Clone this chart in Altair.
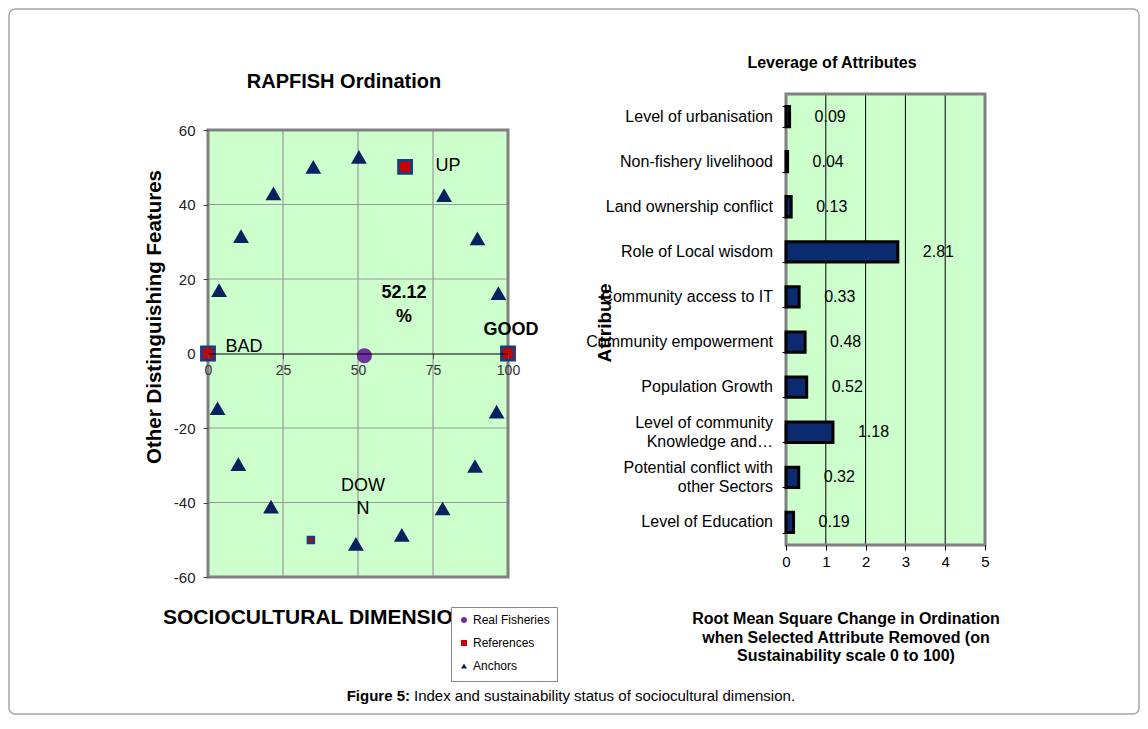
import altair as alt
import pandas as pd

FONT = "Liberation Sans"

# ---------------- Left panel: RAPFISH ordination ----------------
legend_types = ["Real Fisheries", "References", "Anchors"]
anchor_x = [3.7, 11.0, 21.8, 35.1, 50.3, 78.7, 89.8, 96.8,
            3.2, 10.1, 21.0, 49.3, 64.6, 78.2, 89.0, 96.2]
anchor_y = [17.0, 31.5, 43.0, 50.1, 52.8, 42.5, 30.9, 16.2,
            -14.7, -29.7, -41.1, -51.1, -48.7, -41.6, -30.2, -15.6]
ref_names = ["BAD", "GOOD", "UP", "DOWN"]
ref_x = [0, 100, 65.7, 34.3]
ref_y = [0, 0, 50.1, -50.1]
real_x = [52.12]
real_y = [-0.6]
left_x_domain = [0, 100]
left_y_domain = [-60, 60]
left_x_ticks = [0, 25, 50, 75, 100]
left_y_ticks = [-60, -40, -20, 0, 20, 40, 60]
left_x_grid = [25, 50, 75]
left_y_grid = [-40, -20, 20, 40]
ann_text = ["UP", "BAD", "DOW\nN"]
ann_x = [80, 12, 51.7]
ann_y = [50.3, 1.7, -35.6]
ann_bold_text = ["GOOD", "52.12\n%"]
ann_bold_x = [101, 65.3]
ann_bold_y = [6.3, 16.2]

# ---------------- Right panel: leverage of attributes ----------------
attributes = [
    "Level of urbanisation",
    "Non-fishery livelihood",
    "Land ownership conflict",
    "Role of Local wisdom",
    "Community access to IT",
    "Community empowerment",
    "Population Growth",
    "Level of community\nKnowledge and\u2026",
    "Potential conflict with\nother Sectors",
    "Level of Education",
]
leverage = [0.09, 0.04, 0.13, 2.81, 0.33, 0.48, 0.52, 1.18, 0.32, 0.19]
right_x_domain = [0, 5]
right_x_ticks = [0, 1, 2, 3, 4, 5]
right_x_grid = [1, 2, 3, 4]

# ---------------- Texts ----------------
left_title = ["RAPFISH Ordination"]
left_ytitle = ["Other Distinguishing Features"]
left_xtitle = ["SOCIOCULTURAL DIMENSION"]
right_title = ["Leverage of Attributes"]
right_ytitle = ["Attribute"]
right_xtitle = ["Root Mean Square Change in Ordination\nwhen Selected Attribute Removed (on\nSustainability scale 0 to 100)"]
caption_bold = ["Figure 5:"]
caption_rest = ["Index and sustainability status of sociocultural dimension."]

GREEN = "#CCFFCC"
NAVY = "#0A2160"
BORDER = "#808080"
W, H = 1130, 705

# ---------------- Left scales / axes ----------------
xsL = alt.Scale(domain=left_x_domain, range=[199, 499], nice=False, zero=False)
ysL = alt.Scale(domain=left_y_domain, range=[568, 121], nice=False, zero=False)
axXL = alt.Axis(orient="bottom", offset=-(H - 344.5), values=left_x_ticks, title=None, grid=False,
                domain=True, domainColor="black", domainWidth=1.2, ticks=True, tickSize=5,
                tickColor="#555555", labelFont=FONT, labelFontSize=14, labelColor="#333333",
                labelPadding=5, labelFlush=False, labelOverlap=False, zindex=2)
axYL = alt.Axis(orient="left", offset=-199, values=left_y_ticks, title=None, grid=False,
                domain=False, ticks=True, tickSize=5, tickColor="#444444", labelFont=FONT,
                labelFontSize=15, labelColor="#222222", labelPadding=8, labelFlush=False,
                labelOverlap=False, labelExpr="toString(datum.value)", zindex=2)

def XL(f):
    return alt.X(f, scale=xsL, axis=axXL)

def YL(f):
    return alt.Y(f, scale=ysL, axis=axYL)

leg = alt.Legend(
    orient="none", legendX=442, legendY=598, title=None, direction="vertical",
    fillColor="white", strokeColor="#888888", padding=7, labelFont=FONT, labelFontSize=12,
    labelColor="black", symbolSize=36, rowPadding=7, labelOffset=3, zindex=3,
    symbolStrokeColor="#1F3A78", symbolStrokeWidth=2.5,
)
shape_scale = alt.Scale(domain=legend_types, range=["circle", "square", "triangle-up"])
fill_scale = alt.Scale(domain=legend_types, range=["#7030A0", "#CC0000", NAVY])

df_lbg = pd.DataFrame({"x0": [left_x_domain[0]], "x1": [left_x_domain[1]],
                       "y0": [left_y_domain[0]], "y1": [left_y_domain[1]]})
df_vgrid = pd.DataFrame({"x": left_x_grid, "y0": left_y_domain[0], "y1": left_y_domain[1]})
df_hgrid = pd.DataFrame({"y": left_y_grid, "x0": left_x_domain[0], "x1": left_x_domain[1]})
df_anchor = pd.DataFrame({"x": anchor_x, "y": anchor_y, "type": "Anchors"})
df_ref = pd.DataFrame({"x": ref_x, "y": ref_y, "type": "References", "name": ref_names})
df_real = pd.DataFrame({"x": real_x, "y": real_y, "type": "Real Fisheries"})
df_ann = pd.DataFrame({"x": ann_x, "y": ann_y, "t": ann_text})
df_annb = pd.DataFrame({"x": ann_bold_x, "y": ann_bold_y, "t": ann_bold_text})

lbg = alt.Chart(df_lbg).mark_rect(fill=GREEN).encode(x=XL("x0:Q"), x2="x1", y=YL("y0:Q"), y2="y1")
lvgrid = alt.Chart(df_vgrid).mark_rule(color="#999999", strokeWidth=1.2).encode(
    x=XL("x:Q"), y=YL("y0:Q"), y2="y1")
lhgrid = alt.Chart(df_hgrid).mark_rule(color="#999999", strokeWidth=1.2).encode(
    y=YL("y:Q"), x=XL("x0:Q"), x2="x1")
lborder = alt.Chart(df_lbg).mark_rect(fillOpacity=0, stroke=BORDER, strokeWidth=3).encode(
    x=XL("x0:Q"), x2="x1", y=YL("y0:Q"), y2="y1")

def pts(df):
    return alt.Chart(df).encode(
        x=XL("x:Q"), y=YL("y:Q"),
        shape=alt.Shape("type:N", scale=shape_scale, legend=leg),
        fill=alt.Fill("type:N", scale=fill_scale, legend=leg),
    )

anchors = pts(df_anchor).mark_point(filled=True, size=250, opacity=1, strokeWidth=0)
refs_big = pts(df_ref).transform_filter("datum.name != 'DOWN'").mark_point(
    filled=True, size=165, opacity=1, stroke="#1F3A78", strokeWidth=3)
refs_small = pts(df_ref).transform_filter("datum.name == 'DOWN'").mark_point(
    filled=True, size=36, opacity=1, stroke="#1F3A78", strokeWidth=2.5)
real = pts(df_real).mark_point(filled=True, size=230, opacity=1, strokeWidth=0)

ann = alt.Chart(df_ann).mark_text(font=FONT, fontSize=18, lineBreak="\n", lineHeight=23,
                                  align="center", baseline="middle", color="black").encode(
    x=XL("x:Q"), y=YL("y:Q"), text="t:N")
annb = alt.Chart(df_annb).mark_text(font=FONT, fontSize=18, fontWeight="bold", lineBreak="\n",
                                    lineHeight=24, align="center", baseline="middle",
                                    color="black").encode(x=XL("x:Q"), y=YL("y:Q"), text="t:N")

left = alt.layer(lbg, lvgrid, lhgrid, lborder, anchors, refs_big, refs_small, real, ann, annb)

# ---------------- Right scales / axes ----------------
xsR = alt.Scale(domain=right_x_domain, range=[777, 976], nice=False, zero=False)
ysR = alt.Scale(domain=attributes, range=[85, 536], paddingInner=0.55, paddingOuter=0.275)
ysRbg = alt.Scale(domain=[0, 1], range=[536, 85], nice=False, zero=False)
axXR = alt.Axis(orient="bottom", offset=-(H - 536), values=right_x_ticks, title=None, grid=False,
                domain=False, ticks=True, tickSize=5, tickColor="black", labelFont=FONT,
                labelFontSize=15, labelColor="black", labelPadding=4, labelFlush=False,
                labelOverlap=False, zindex=2)
axYR = alt.Axis(orient="left", offset=-777, title=None, grid=False, domain=False, ticks=True,
                tickBand="extent", tickSize=4, tickColor="black", labels=False, zindex=2)

df_rbg = pd.DataFrame({"x0": [right_x_domain[0]], "x1": [right_x_domain[1]], "y0": [0], "y1": [1]})
df_rgrid = pd.DataFrame({"x": right_x_grid, "y0": 0, "y1": 1})
rbg = alt.Chart(df_rbg).mark_rect(fill=GREEN).encode(
    x=alt.X("x0:Q", scale=xsR, axis=None), x2="x1",
    y=alt.Y("y0:Q", scale=ysRbg, axis=None), y2="y1")
rgrid = alt.Chart(df_rgrid).mark_rule(color="black", strokeWidth=1).encode(
    x=alt.X("x:Q", scale=xsR, axis=None),
    y=alt.Y("y0:Q", scale=ysRbg, axis=None), y2="y1")
rborder = alt.Chart(df_rbg).mark_rect(fillOpacity=0, stroke=BORDER, strokeWidth=3).encode(
    x=alt.X("x0:Q", scale=xsR, axis=None), x2="x1",
    y=alt.Y("y0:Q", scale=ysRbg, axis=None), y2="y1")
right_bg = alt.layer(rbg, rgrid, rborder)

df_lev = pd.DataFrame({"attr": attributes, "value": leverage, "base": 0})
bars = alt.Chart(df_lev).mark_bar(fill="#0B2A6F", stroke="black", strokeWidth=3).encode(
    x=alt.X("value:Q", scale=xsR, axis=axXR), x2="base",
    y=alt.Y("attr:N", scale=ysR, axis=axYR, sort=None))
bar_labels = alt.Chart(df_lev).mark_text(font=FONT, fontSize=16, align="left", baseline="middle",
                                         dx=25, color="black").encode(
    x=alt.X("value:Q", scale=xsR, axis=axXR),
    y=alt.Y("attr:N", scale=ysR, axis=axYR, sort=None),
    text=alt.Text("value:Q", format=".2f"))
cat_single = alt.Chart(df_lev).transform_filter("indexof(datum.attr, '\\n') < 0").mark_text(
    font=FONT, fontSize=16, align="right", baseline="middle", dx=-13, color="black").encode(
    x=alt.X("base:Q", scale=xsR, axis=axXR),
    y=alt.Y("attr:N", scale=ysR, axis=axYR, sort=None),
    text="attr:N")
cat_multi = alt.Chart(df_lev).transform_filter("indexof(datum.attr, '\\n') >= 0").mark_text(
    font=FONT, fontSize=16, align="right", baseline="middle", dx=-13, dy=-9.25,
    lineBreak="\n", lineHeight=18.5, color="black").encode(
    x=alt.X("base:Q", scale=xsR, axis=axXR),
    y=alt.Y("attr:N", scale=ysR, axis=axYR, sort=None),
    text="attr:N")
right = alt.layer(bars, bar_labels, cat_single, cat_multi)

# ---------------- Titles / caption ----------------
def txt(values, x, y, size, weight="normal", angle=0, align="center", lh=None):
    kw = dict(font=FONT, fontSize=size, fontWeight=weight, align=align, baseline="middle",
              color="black", lineBreak="\n")
    if angle:
        kw["angle"] = angle
    if lh:
        kw["lineHeight"] = lh
    return alt.Chart(pd.DataFrame({"t": values})).mark_text(**kw).encode(
        x=alt.value(x), y=alt.value(y), text="t:N")

texts = [
    txt(left_title, 335, 73, 20, "bold"),
    txt(left_ytitle, 146, 308, 20.5, "bold", angle=270),
    txt(left_xtitle, 154, 609, 21, "bold", align="left"),
    txt(right_title, 823, 54, 16, "bold"),
    txt(right_ytitle, 596, 314, 19, "bold", angle=270),
    txt(right_xtitle, 837, 610, 16, "bold", lh=18.5),
    txt(caption_bold, 401, 687, 15, "bold", align="right"),
    txt(caption_rest, 405, 687, 15, "normal", align="left"),
]

chart = alt.layer(left, right_bg, right, *texts).resolve_scale(
    x="independent", y="independent"
).properties(
    width=W, height=H, autosize=alt.AutoSizeParams(type="none"), padding=1
).configure_view(stroke="#A6A6A6", strokeWidth=1.5, cornerRadius=6)

chart.save("out.html", embed_options={"renderer": "svg", "actions": False})
